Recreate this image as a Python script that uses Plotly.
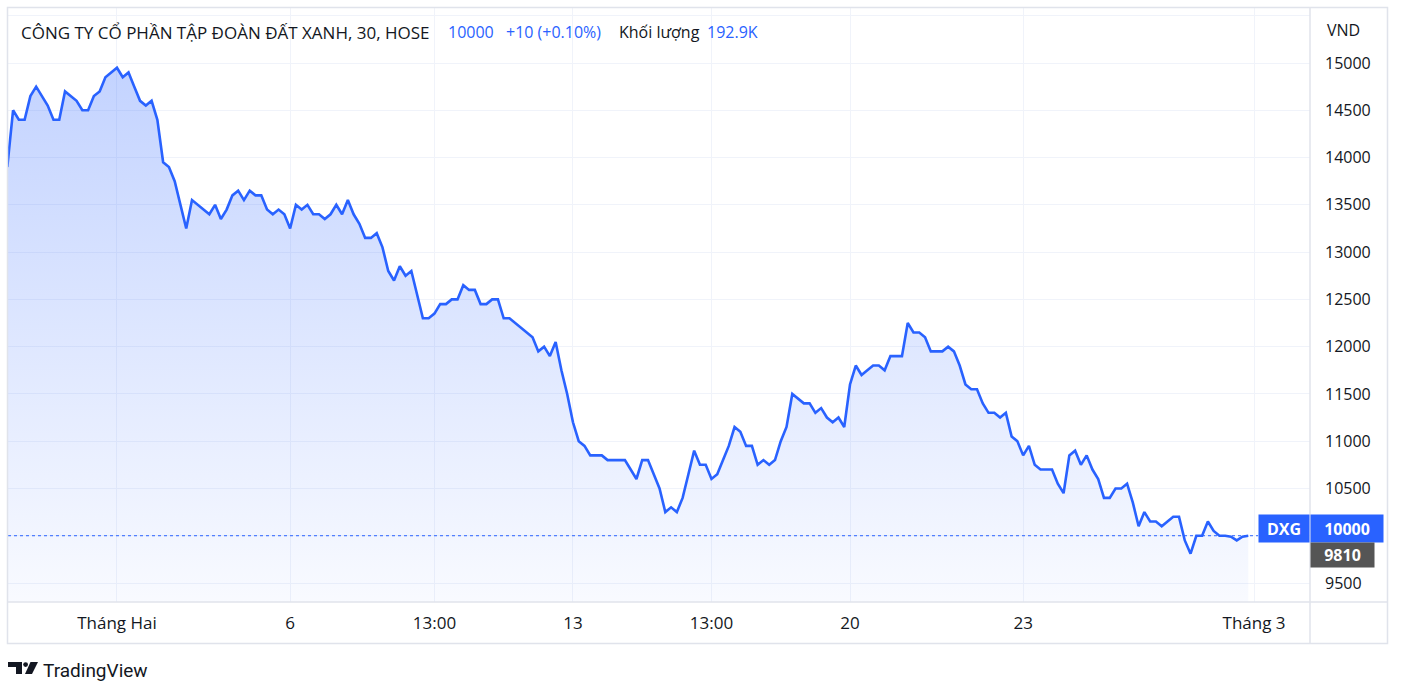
import plotly.graph_objects as go

# ---------------- data ----------------
prices = [
    13900, 14500, 14400, 14400, 14650, 14750, 14650, 14550, 14400, 14400,
    14700, 14650, 14600, 14500, 14500, 14650, 14700, 14850, 14900, 14950,
    14850, 14900, 14750, 14600, 14550, 14600, 14400, 13950, 13900, 13750,
    13500, 13250, 13550, 13500, 13450, 13400, 13500, 13350, 13450, 13600,
    13650, 13550, 13650, 13600, 13600, 13450, 13400, 13450, 13400, 13250,
    13500, 13450, 13500, 13400, 13400, 13350, 13400, 13500, 13400, 13550,
    13400, 13300, 13150, 13150, 13200, 13050, 12800, 12700, 12850, 12750,
    12800, 12550, 12300, 12300, 12350, 12450, 12450, 12500, 12500, 12650,
    12600, 12600, 12450, 12450, 12500, 12500, 12300, 12300, 12250, 12200,
    12150, 12100, 11950, 12000, 11900, 12050,
    11750, 11500, 11200, 11000,
    10950, 10850, 10850, 10850, 10800, 10800, 10800, 10800, 10700, 10600,
    10800, 10800, 10650, 10500, 10250, 10300, 10250, 10400, 10650, 10900,
    10750, 10750, 10600, 10650, 10800, 10950, 11150, 11100, 10950, 10950,
    10750, 10800, 10750, 10800, 11000, 11150, 11500, 11450, 11400, 11400,
    11300, 11350, 11250, 11200, 11250, 11150, 11600, 11800, 11700, 11750,
    11800, 11800, 11750, 11900, 11900, 11900, 12250, 12150, 12150, 12100,
    11950, 11950, 11950, 12000, 11950, 11800, 11600, 11550, 11550, 11400,
    11300, 11300, 11250, 11300, 11050, 11000, 10850, 10950, 10750, 10700,
    10700, 10700, 10550, 10450, 10850, 10900, 10750, 10850, 10700, 10600,
    10400, 10400, 10500, 10500, 10550, 10350, 10100, 10250, 10150, 10150,
    10100, 10150, 10200, 10200, 9950, 9810, 10000, 10000, 10150, 10050,
    10000, 10000, 9990, 9950, 9990, 10000,
]
bar_index = list(range(len(prices)))

x_tick_positions = [19, 49, 74, 98, 122, 146, 176, 216]
x_tick_labels = ["Tháng Hai", "6", "13:00", "13", "13:00", "20", "23", "Tháng 3"]

# the 10000 level is labelled by the last-price marker, 15500 only has a grid line
y_tick_values = [9500, 10000, 10500, 11000, 11500, 12000, 12500, 13000,
                 13500, 14000, 14500, 15000, 15500]
y_tick_labels = ["9500", "", "10500", "11000", "11500", "12000", "12500",
                 "13000", "13500", "14000", "14500", "15000", ""]

title_text = "CÔNG TY CỔ PHẦN TẬP ĐOÀN ĐẤT XANH, 30, HOSE"
last_price = 10000
change_text = "+10 (+0.10%)"
volume_label = "Khối lượng"
volume_value = "192.9K"
low_price = 9810
symbol = "DXG"
unit_label = "VND"
brand = "TradingView"

# ---------------- styling ----------------
W, H = 1403, 697
PL, PR, PT, PB = 8, 1310, 8, 602          # plot area in pixels
BLUE = "#2962FF"
TXT = "#131722"
GRID = "#f0f3fa"
BORDER = "#e0e3eb"
FONT = "Open Sans"


def px(x):
    return (x - PL) / (PR - PL)


def py(y):
    return (PB - y) / (PB - PT)


fig = go.Figure()
fig.add_trace(go.Scatter(
    x=bar_index, y=prices, mode="lines",
    line=dict(color=BLUE, width=2.6),
    fill="tozeroy",
    fillgradient=dict(type="vertical",
                      colorscale=[[0, "rgba(41,98,255,0.03)"],
                                  [1, "rgba(41,98,255,0.28)"]],
                      start=9299, stop=max(prices)),
    hoverinfo="skip",
))

shapes = []
# dotted last-price line
shapes.append(dict(type="line", xref="paper", yref="y", x0=0, x1=px(1258),
                   y0=last_price, y1=last_price,
                   line=dict(color=BLUE, width=1, dash="dot")))
# outer frame and separators
shapes.append(dict(type="rect", xref="paper", yref="paper",
                   x0=px(7.5), x1=px(1387.5), y0=py(643.5), y1=py(7.5),
                   line=dict(color=BORDER, width=1.5), layer="above"))
shapes.append(dict(type="line", xref="paper", yref="paper",
                   x0=px(1310), x1=px(1310), y0=py(643.5), y1=py(7.5),
                   line=dict(color=BORDER, width=1.5), layer="above"))
shapes.append(dict(type="line", xref="paper", yref="paper",
                   x0=px(7.5), x1=px(1387.5), y0=py(602), y1=py(602),
                   line=dict(color=BORDER, width=1.5), layer="above"))


# TradingView logo glyph
def path(points):
    return "M " + " L ".join(f"{px(a)},{py(b)}" for a, b in points) + " Z"


shapes.append(dict(type="path", xref="paper", yref="paper",
                   path=path([(8, 662), (22, 662), (22, 674), (16, 674), (16, 667), (8, 667)]),
                   fillcolor=TXT, line=dict(width=0)))
shapes.append(dict(type="circle", xref="paper", yref="paper",
                   x0=px(23.2), x1=px(28), y0=py(667), y1=py(662.2),
                   fillcolor=TXT, line=dict(width=0)))
shapes.append(dict(type="path", xref="paper", yref="paper",
                   path=path([(30.5, 662), (38, 662), (32, 674), (25, 674)]),
                   fillcolor=TXT, line=dict(width=0)))

annotations = []


def note(text, x, y, color=TXT, size=16, anchor="left", family=FONT, **kw):
    annotations.append(dict(text=text, x=px(x), y=py(y), xref="paper", yref="paper",
                            xanchor=anchor, yanchor="middle", showarrow=False,
                            font=dict(family=family, size=size, color=color), **kw))


note(title_text, 19, 32, size=17)
note(f"{last_price}", 446, 32, BLUE)
note(change_text, 504, 32, BLUE)
note(volume_label, 617, 32)
note(volume_value, 705, 32, BLUE)
note(unit_label, 1325, 30)
note(brand, 41, 670, size=19, family="Roboto")

# price labels on the axis
annotations.append(dict(text=f"<b>{symbol}</b>", x=1, xref="paper", y=last_price, yref="y",
                        xanchor="right", yanchor="middle", yshift=7, showarrow=False,
                        bgcolor=BLUE, width=42, height=19, borderpad=4,
                        font=dict(family=FONT, size=16, color="white")))
annotations.append(dict(text=f"<b>{last_price}</b>", x=1, xref="paper", y=last_price, yref="y",
                        xanchor="left", yanchor="middle", yshift=7, showarrow=False,
                        bgcolor=BLUE, width=64, height=19, borderpad=4,
                        font=dict(family=FONT, size=16, color="white")))
annotations.append(dict(text=f"<b>{low_price}</b>", x=1, xref="paper", y=low_price, yref="y",
                        xanchor="left", yanchor="middle", yshift=-1, showarrow=False,
                        bgcolor="#555555", width=55, height=16, borderpad=4,
                        font=dict(family=FONT, size=16, color="white")))

fig.update_layout(
    width=W, height=H,
    margin=dict(l=PL, r=W - PR, t=PT, b=H - PB, pad=0),
    paper_bgcolor="white", plot_bgcolor="white",
    showlegend=False,
    font=dict(family=FONT, size=16, color=TXT),
    shapes=shapes, annotations=annotations,
    xaxis=dict(range=[(PL - 7.3) / 5.772, (PR - 7.3) / 5.772],
               tickvals=x_tick_positions, ticktext=x_tick_labels,
               showgrid=True, gridcolor=GRID, gridwidth=1,
               zeroline=False, showline=False, ticks="",
               tickfont=dict(family=FONT, size=17, color=TXT),
               ticklabelstandoff=9, fixedrange=True),
    yaxis=dict(side="right", range=[9299, 15582],
               tickvals=y_tick_values, ticktext=y_tick_labels,
               showgrid=True, gridcolor=GRID, gridwidth=1,
               zeroline=False, showline=False, ticks="",
               tickfont=dict(family=FONT, size=16, color=TXT),
               ticklabelstandoff=14, fixedrange=True),
)

fig.write_html("out.html", config={"displayModeBar": False},
               post_script="document.body.style.margin='0';document.body.style.overflow='hidden';")
